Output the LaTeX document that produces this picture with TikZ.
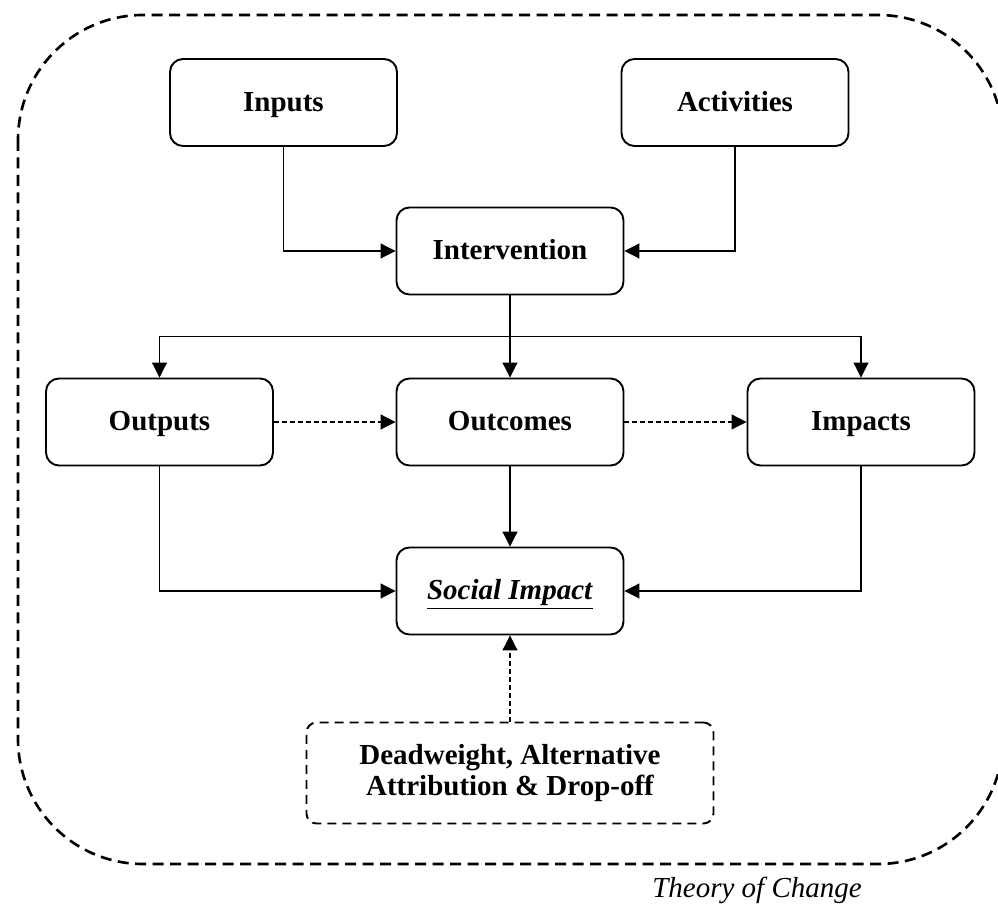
\documentclass[tikz,border=0pt]{standalone}
\usepackage{fontspec}
\setmainfont{Liberation Serif}
\usetikzlibrary{arrows.meta,positioning,calc}

\begin{document}
\begin{tikzpicture}[->, >={Triangle[length=3mm,width=3mm]}, semithick, node distance=3cm, on grid]
    \tikzstyle{panel}=[draw=black, line width=1.1pt, rounded corners=0.26cm, minimum width=4.54cm, minimum height=1.74cm, align=center, font=\fontsize{16.5}{17.5}\selectfont\bfseries]
    \tikzstyle{box}=[panel, text height=14pt, text depth=3.8pt]
    \tikzstyle{softbox}=[panel, dash pattern=on 1.8mm off 1.2mm, rounded corners=0.2cm, minimum width=8.14cm, minimum height=2.02cm]
    \tikzstyle{weak}=[dash pattern=on 1mm off 0.6mm]
    \useasboundingbox (0,0) rectangle (19.96,-18.08);
    % outer frame
    \draw[-, line width=1.5pt, dash pattern=on 2.2mm off 1.3mm, rounded corners=2.5cm] (0.36,-0.30) rectangle (20.06,-17.28);
    \node[box]      (intervention) at (10.2,-5.02)                          {Intervention};
    \node[box]      (inputs)       [above left=2.97cm and 4.53cm of intervention]  {Inputs};
    \node[box]      (activities)   [above right=2.97cm and 4.5cm of intervention]  {Activities};
    \node[box]      (outcomes)     [below=3.42cm of intervention]           {Outcomes};
    \node[box]      (outputs)      [left=7.01cm of outcomes]                {Outputs};
    \node[box]      (impacts)      [right=7.02cm of outcomes]               {Impacts};
    \node[box]      (social)       [below=3.38cm of outcomes]               {\underline{\textit{Social Impact}}};
    \node[softbox]  (deadweight)   [below=3.64cm of social]                 {Deadweight, Alternative\\Attribution \& Drop-off};
    \node[font=\fontsize{16.5}{18}\selectfont\itshape] (caption) at (15.14,-17.8) {Theory of Change};
    \coordinate (split) at ($(intervention.south)!0.5!(outcomes.north)$);
    \draw (inputs) |- (intervention);
    \draw (activities) |- (intervention);
    \draw (split) -| (outputs);
    \draw (split) -| (impacts);
    \draw (outputs) |- (social);
    \draw (impacts) |- (social);
    \path
    (intervention) edge (outcomes)
    (outcomes) edge (social)
    (outputs) edge[weak] (outcomes)
    (outcomes) edge[weak] (impacts)
    (deadweight) edge[weak] (social);
\end{tikzpicture}
\end{document}
